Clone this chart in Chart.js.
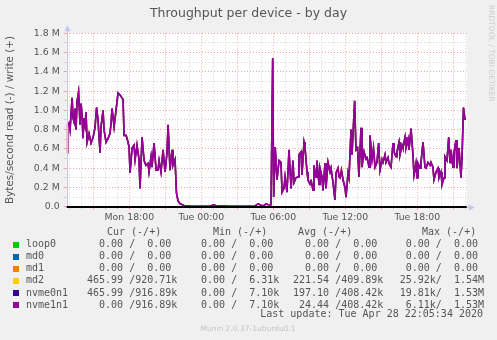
<!DOCTYPE html>
<html>
<head>
<meta charset="utf-8">
<title>Throughput per device - by day</title>
<script src="https://cdn.jsdelivr.net/npm/chart.js@4.4.0/dist/chart.umd.min.js"></script>
<style>
  html, body { margin: 0; padding: 0; background: #f0f0f0; }
  #wrap { width: 497px; height: 340px; }
</style>
</head>
<body>
<div id="wrap"><canvas id="chartThroughput" width="497" height="340"></canvas></div>
<script>
// time axis: hours since Monday 00:00
const hours = [
  12.81, 12.85, 12.98, 13.06, 13.23, 13.31, 13.39, 13.48, 13.56, 13.64, 13.77, 13.89, 13.98, 14.06, 14.14, 14.23,
  14.31, 14.39, 14.48, 14.64, 14.81, 14.98, 15.14, 15.27, 15.39, 15.56, 15.64, 15.81, 15.89, 16.06, 16.23, 16.39,
  16.48, 16.56, 16.73, 16.89, 17.06, 17.23, 17.39, 17.48, 17.56, 17.73, 17.85, 17.98, 18.06, 18.23, 18.39, 18.48,
  18.64, 18.81, 18.89, 19.06, 19.23, 19.39, 19.56, 19.64, 19.81, 19.89, 20.06, 20.23, 20.39, 20.48, 20.64, 20.81,
  20.98, 21.14, 21.23, 21.39, 21.56, 21.64, 21.81, 21.93, 22.06, 22.23, 22.56, 23.06, 23.89, 24.73, 25.06, 25.23,
  26.39, 27.64, 28.48, 28.73, 28.98, 29.23, 29.39, 29.56, 29.81, 29.89, 29.95, 30.03, 30.16, 30.31, 30.48, 30.64,
  30.73, 30.89, 30.98, 31.14, 31.31, 31.48, 31.64, 31.73, 31.89, 32.06, 32.14, 32.31, 32.39, 32.56, 32.64, 32.81,
  32.89, 33.06, 33.14, 33.31, 33.39, 33.56, 33.64, 33.81, 33.89, 34.06, 34.14, 34.31, 34.39, 34.56, 34.73, 34.81,
  34.98, 35.14, 35.23, 35.39, 35.48, 35.56, 35.68, 35.81, 35.98, 36.06, 36.23, 36.31, 36.48, 36.56, 36.78, 36.89,
  37.02, 37.14, 37.31, 37.39, 37.56, 37.73, 37.81, 37.98, 38.06, 38.23, 38.35, 38.48, 38.64, 38.78, 38.89, 39.06,
  39.14, 39.31, 39.39, 39.56, 39.64, 39.81, 39.98, 40.06, 40.23, 40.31, 40.48, 40.56, 40.73, 40.81, 40.98, 41.06,
  41.23, 41.31, 41.48, 41.64, 41.73, 41.89, 41.98, 42.06, 42.23, 42.31, 42.48, 42.64, 42.73, 42.89, 43.06, 43.14,
  43.31, 43.39, 43.56, 43.73, 43.81, 43.98, 44.06, 44.23, 44.31, 44.48, 44.62, 44.73, 44.81, 44.98, 45.06, 45.23,
  45.31, 45.48, 45.64, 45.73, 45.85, 45.98
];

// write (+) throughput, MB/s; md2, nvme0n1 and nvme1n1 lie on top of each other
const writeValues = [
  0.56, 0.85, 0.87, 0.80, 1.13, 0.92, 0.88, 1.02, 0.80, 1.09, 1.19, 0.85, 1.07, 0.95, 0.71, 0.92,
  0.85, 0.98, 0.67, 0.76, 0.66, 0.72, 0.82, 1.03, 0.90, 0.56, 0.83, 1.00, 0.80, 0.67, 0.71, 0.76,
  0.87, 1.02, 0.83, 1.00, 1.18, 1.16, 1.13, 1.11, 0.74, 0.74, 0.69, 0.62, 0.35, 0.61, 0.64, 0.49,
  0.64, 0.49, 0.19, 0.72, 0.48, 0.43, 0.45, 0.36, 0.52, 0.41, 0.66, 0.38, 0.38, 0.48, 0.36, 0.59,
  0.36, 0.56, 0.85, 0.38, 0.59, 0.43, 0.49, 0.14, 0.06, 0.03, 0.012, 0.006, 0.005, 0.006, 0.02, 0.01,
  0.005, 0.005, 0.008, 0.03, 0.015, 0.01, 0.03, 0.02, 0.02, 0.02, 1.54, 0.10, 0.62, 0.28, 0.48, 0.46,
  0.15, 0.19, 0.31, 0.15, 0.59, 0.19, 0.48, 0.25, 0.30, 0.31, 0.54, 0.57, 0.33, 0.67, 0.62, 0.36,
  0.28, 0.23, 0.28, 0.17, 0.43, 0.31, 0.48, 0.23, 0.40, 0.31, 0.17, 0.45, 0.19, 0.46, 0.36, 0.40,
  0.25, 0.07, 0.35, 0.40, 0.31, 0.30, 0.38, 0.28, 0.20, 0.10, 0.35, 0.30, 0.80, 0.54, 1.10, 0.59,
  0.61, 0.31, 0.82, 0.41, 0.57, 0.49, 0.52, 0.41, 0.74, 0.49, 0.61, 0.41, 0.46, 0.66, 0.38, 0.49,
  0.46, 0.54, 0.46, 0.51, 0.45, 0.41, 0.66, 0.57, 0.52, 0.57, 0.67, 0.54, 0.64, 0.61, 0.72, 0.61,
  0.70, 0.59, 0.81, 0.54, 0.33, 0.45, 0.30, 0.45, 0.40, 0.46, 0.67, 0.41, 0.40, 0.46, 0.43, 0.46,
  0.41, 0.28, 0.36, 0.40, 0.30, 0.36, 0.23, 0.30, 0.52, 0.48, 0.72, 0.46, 0.59, 0.41, 0.56, 0.69,
  0.40, 0.61, 0.30, 0.51, 1.03, 0.90
];

// loop0, md0, md1 stay at zero all day
const flatHours = [12.81, 45.98];
const flatValues = [0, 0];

const devices = ['loop0', 'md0', 'md1', 'md2', 'nvme0n1', 'nvme1n1'];
const deviceColors = ['#00cc00', '#0066b3', '#ff8000', '#ffcc00', '#330099', '#990099'];
const curText = ['  0.00 /  0.00', '  0.00 /  0.00', '  0.00 /  0.00', '465.99 /920.71k', '465.99 /916.89k', '  0.00 /916.89k'];
const minText = ['  0.00 /  0.00', '  0.00 /  0.00', '  0.00 /  0.00', '  0.00 /  6.31k', '  0.00 /  7.10k', '  0.00 /  7.10k'];
const avgText = ['  0.00 /  0.00', '  0.00 /  0.00', '  0.00 /  0.00', '221.54 /409.89k', '197.10 /408.42k', ' 24.44 /408.42k'];
const maxText = ['  0.00 /  0.00', '  0.00 /  0.00', '  0.00 /  0.00', ' 25.92k/  1.54M', ' 19.81k/  1.53M', '  6.11k/  1.53M'];
const headers = ['Cur (-/+)', 'Min (-/+)', 'Avg (-/+)', 'Max (-/+)'];

const xTickHours = [18, 24, 30, 36, 42];
const xTickLabels = ['Mon 18:00', 'Tue 00:00', 'Tue 06:00', 'Tue 12:00', 'Tue 18:00'];
const yTickValues = [0, 0.2, 0.4, 0.6, 0.8, 1.0, 1.2, 1.4, 1.6, 1.8];
const yTickLabels = ['0.0', '0.2 M', '0.4 M', '0.6 M', '0.8 M', '1.0 M', '1.2 M', '1.4 M', '1.6 M', '1.8 M'];

const TEXT = '#555555';
const MINOR = '#d2d2d2';
const MAJOR = '#f2a6a6';
const AXIS = '#c4c4ee';
const SANS = 'DejaVu Sans';
const MONO = 'DejaVu Sans Mono';

function seriesFor(i) {
    if (i < 3) return flatHours.map((h, k) => ({ x: h, y: flatValues[k] }));
    return hours.map((h, k) => ({ x: h, y: writeValues[k] }));
}

const datasets = devices.map((name, i) => ({
    label: name,
    data: seriesFor(i),
    borderColor: deviceColors[i],
    backgroundColor: deviceColors[i],
    borderWidth: i < 3 ? 1 : 1.6,
    pointRadius: 0,
    tension: 0,
    order: devices.length - i
}));

const munin = {
    id: 'munin',
    beforeDraw(chart) {
        const { ctx, chartArea: a } = chart;
        ctx.save();
        ctx.fillStyle = '#f0f0f0';
        ctx.fillRect(0, 0, chart.width, chart.height);
        ctx.fillStyle = '#ffffff';
        ctx.fillRect(a.left, a.top, a.right - a.left, a.bottom - a.top);
        ctx.restore();
    },
    afterDatasetsDraw(chart) {
        const { ctx, chartArea: a } = chart;
        const yz = chart.scales.y.getPixelForValue(0);
        const y0 = Math.round(yz) + 0.5;
        const xl = Math.round(a.left) + 0.5;
        ctx.save();
        // axes + arrows
        ctx.strokeStyle = AXIS;
        ctx.fillStyle = AXIS;
        ctx.lineWidth = 1;
        ctx.beginPath();
        ctx.moveTo(xl, y0); ctx.lineTo(xl, a.top - 4);
        ctx.moveTo(xl, y0); ctx.lineTo(a.right + 4, y0);
        ctx.stroke();
        ctx.beginPath();
        ctx.moveTo(xl - 3, a.top - 2); ctx.lineTo(xl + 3, a.top - 2); ctx.lineTo(xl, a.top - 8); ctx.closePath();
        ctx.fill();
        ctx.beginPath();
        ctx.moveTo(a.right + 2, y0 - 3); ctx.lineTo(a.right + 2, y0 + 3); ctx.lineTo(a.right + 8, y0); ctx.closePath();
        ctx.fill();
        // zero line
        ctx.strokeStyle = '#000000';
        ctx.lineWidth = 2;
        ctx.beginPath();
        ctx.moveTo(a.left, Math.round(yz)); ctx.lineTo(a.right, Math.round(yz));
        ctx.stroke();
        ctx.restore();
    },
    afterDraw(chart) {
        const ctx = chart.ctx;
        ctx.save();
        ctx.fillStyle = TEXT;
        ctx.textBaseline = 'middle';
        ctx.textAlign = 'center';
        ctx.font = '12.5px "' + SANS + '"';
        ctx.fillText('Throughput per device - by day', 248.5, 14);

        // rrdtool watermark
        ctx.save();
        ctx.translate(491, 5);
        ctx.rotate(Math.PI / 2);
        ctx.textAlign = 'left';
        ctx.fillStyle = '#cccccc';
        ctx.font = '7.5px "' + SANS + '"';
        ctx.fillText('RRDTOOL / TOBI OETIKER', 0, 0);
        ctx.restore();

        // legend table
        ctx.textAlign = 'left';
        ctx.font = '10px "' + MONO + '"';
        const headX = [107, 213, 298, 422];
        headers.forEach((h, i) => ctx.fillText(h, headX[i], 232.5));
        const colX = [87, 189, 293, 393.7];
        devices.forEach((name, i) => {
            const y = 244.6 + i * 12.1;
            ctx.fillStyle = deviceColors[i];
            ctx.fillRect(13, Math.round(y) - 3, 6, 6);
            ctx.fillStyle = TEXT;
            ctx.fillText(name, 26, y);
            ctx.fillText(curText[i], colX[0], y);
            ctx.fillText(minText[i], colX[1], y);
            ctx.fillText(avgText[i], colX[2], y);
            ctx.fillText(maxText[i], colX[3], y);
        });
        ctx.textAlign = 'right';
        ctx.fillText('Last update: Tue Apr 28 22:05:34 2020', 483, 314);
        ctx.textAlign = 'center';
        ctx.fillStyle = '#c4c4c4';
        ctx.font = '7.5px "' + SANS + '"';
        ctx.fillText('Munin 2.0.37-1ubuntu0.1', 248, 329.5);
        ctx.restore();
    }
};

function isMajorX(v) { return Math.abs(v % 3) < 1e-6; }
function isMajorY(v) { return Math.round(v * 10) % 2 === 0; }

const ctx = document.getElementById('chartThroughput').getContext('2d');
new Chart(ctx, {
    type: 'line',
    data: { datasets: datasets },
    options: {
        responsive: false,
        animation: false,
        devicePixelRatio: 1,
        layout: { padding: { left: 0, right: 30.3, top: 33.3, bottom: 340 - 206.7 - 20 } },
        plugins: { legend: { display: false }, tooltip: { enabled: false }, title: { display: false } },
        scales: {
            x: {
                type: 'linear',
                min: 12.78,
                max: 46.12,
                afterFit: s => { s.height = 20; },
                ticks: {
                    stepSize: 1,
                    includeBounds: false,
                    autoSkip: false,
                    maxRotation: 0,
                    padding: 2,
                    color: TEXT,
                    font: { family: SANS, size: 9.33 },
                    callback: v => {
                        const i = xTickHours.indexOf(v);
                        return i >= 0 ? xTickLabels[i] : '';
                    }
                },
                grid: {
                    color: c => isMajorX(c.tick.value) ? MAJOR : MINOR,
                    tickColor: c => isMajorX(c.tick.value) ? MAJOR : MINOR,
                    tickLength: 3
                },
                border: { display: false, dash: [1, 2] }
            },
            y: {
                min: 0,
                max: 1.8,
                afterFit: s => { s.width = 66.7; },
                ticks: {
                    stepSize: 0.1,
                    autoSkip: false,
                    padding: 4,
                    color: TEXT,
                    font: { family: SANS, size: 9.33 },
                    callback: v => {
                        const i = yTickValues.findIndex(t => Math.abs(t - v) < 1e-6);
                        return i >= 0 ? yTickLabels[i] : '';
                    }
                },
                grid: {
                    color: c => isMajorY(c.tick.value) ? MAJOR : MINOR,
                    tickColor: c => isMajorY(c.tick.value) ? MAJOR : MINOR,
                    tickLength: 3
                },
                border: { display: false, dash: [1, 2] },
                title: {
                    display: true,
                    text: 'Bytes/second read (-) / write (+)',
                    color: TEXT,
                    font: { family: SANS, size: 10.4 },
                    padding: { top: 4, bottom: 0 }
                }
            }
        }
    },
    plugins: [munin]
});
</script>
</body>
</html>
